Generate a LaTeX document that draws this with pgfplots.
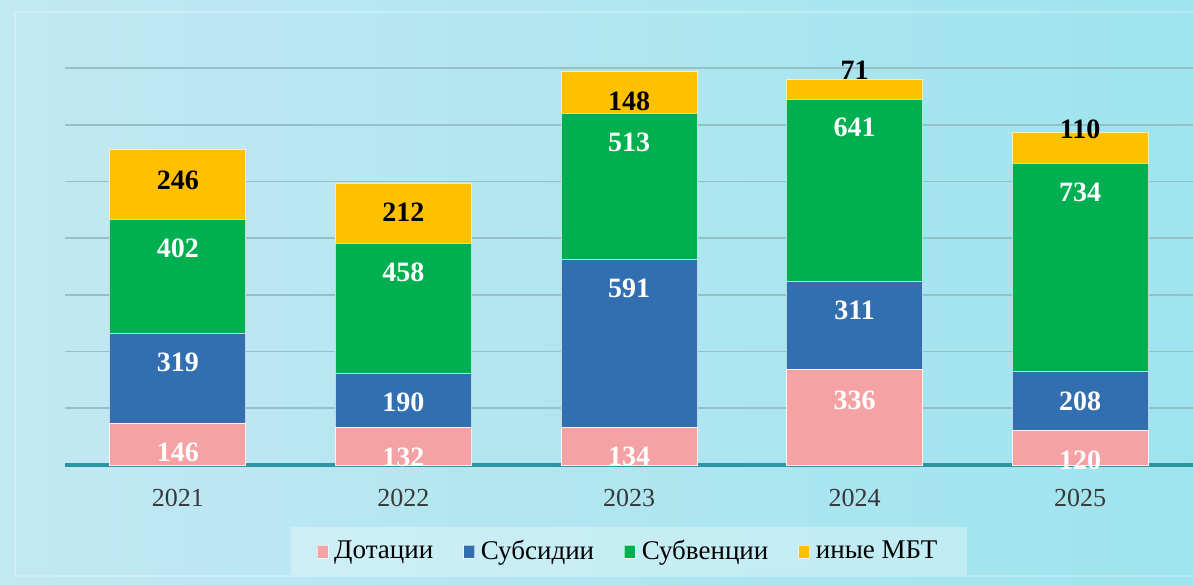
\documentclass[border=0pt]{standalone}
\usepackage{pgfplots}
\pgfplotsset{compat=1.18}
\usepackage{fontspec}
\setmainfont{Liberation Serif}
\definecolor{cDot}{RGB}{244,162,164}
\definecolor{cSub}{RGB}{50,111,176}
\definecolor{cSbv}{RGB}{0,176,80}
\definecolor{cMbt}{RGB}{255,192,0}
\definecolor{cGrid}{RGB}{150,192,200}
\definecolor{cBase}{RGB}{46,150,160}
\definecolor{bgL}{RGB}{194,232,243}
\definecolor{bgR}{RGB}{158,228,238}
\pgfplotstableread{
x dot sub sbv mbt
0 146 319 402 246
1 132 190 458 212
2 134 591 513 148
3 336 311 641 71
4 120 208 734 110
}\bars
\begin{document}
\begin{tikzpicture}
\useasboundingbox (0,0) rectangle (596.5pt,292pt);
\shade[left color=bgL, right color=bgR] (0,0) rectangle (596.5pt,292pt);
\draw[white, opacity=0.25, line width=0.8pt] (7.5pt,4pt) rectangle (600pt,286pt);
\pgfplotsset{base/.style={
  width=564pt, height=198.5pt, scale only axis,
  at={(32.5pt,59.5pt)}, anchor=south west,
  xmin=-0.5, xmax=4.5, ymin=0, ymax=1400,
  axis line style={draw=none}, major tick length=0pt,
  clip=false,
}}
\begin{axis}[base,
  ybar stacked, bar width=68pt,
  xtick={0,1,2,3,4}, xticklabels={2021,2022,2023,2024,2025},
  xticklabel style={font=\fontsize{13}{15}\selectfont, text=black!78, anchor=center, yshift=-16.5pt},
  ytick={200,400,...,1400}, yticklabels={},
  ymajorgrids, grid style={cGrid, line width=0.8pt},
  legend style={at={(0.5,-0.2166)}, anchor=center, legend columns=4, draw=none,
    fill=white, fill opacity=0.3, text opacity=1, inner xsep=13pt, inner ysep=4.5pt,
    font=\fontsize{13.5}{15}\selectfont,
    /tikz/every even column/.append style={column sep=13pt},
    /tikz/every odd column/.append style={column sep=1pt}},
  legend image code/.code={\fill[#1, fill opacity=1, draw=white, draw opacity=0.6, line width=0.3pt] (0pt,-3.6pt) rectangle (5.5pt,3pt);},
]
\addplot[fill=cDot, draw=white!85!cDot, line width=0.5pt] table[x=x,y=dot]{\bars};
\addlegendentry{Дотации}
\addplot[fill=cSub, draw=white!70!cSub, line width=0.5pt] table[x=x,y=sub]{\bars};
\addlegendentry{Субсидии}
\addplot[fill=cSbv, draw=white!70!cSbv, line width=0.5pt] table[x=x,y=sbv]{\bars};
\addlegendentry{Субвенции}
\addplot[fill=cMbt, draw=white!70!cMbt, line width=0.5pt] table[x=x,y=mbt]{\bars};
\addlegendentry{иные МБТ}
\draw[cBase, line width=2pt] (axis cs:-0.5,0) -- (axis cs:4.5,0);
\end{axis}
\begin{axis}[base, xtick=\empty, ytick=\empty,
  nodes near coords, point meta=explicit symbolic,
  nodes near coords style={anchor=center, font=\fontsize{14}{16}\selectfont\bfseries},
]
\addplot[draw=none, mark=none, nodes near coords style={white}] coordinates {
(0,46)[146] (1,28)[132] (2,32)[134] (3,229)[336] (4,18)[120]
(0,363)[319] (1,222)[190] (2,624)[591] (3,547)[311] (4,226)[208]
(0,765)[402] (1,681)[458] (2,1136)[513] (3,1189)[641] (4,963)[734]};
\addplot[draw=none, mark=none, nodes near coords style={black}] coordinates {
(0,1005)[246] (1,892)[212] (2,1284)[148] (3,1393)[71] (4,1185)[110]};
\end{axis}
\end{tikzpicture}
\end{document}
